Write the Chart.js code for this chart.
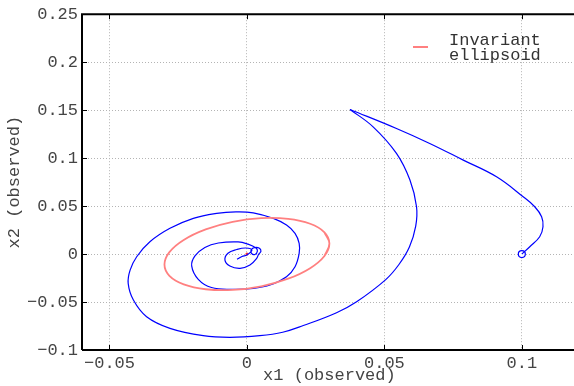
<!DOCTYPE html>
<html>
<head>
<meta charset="utf-8">
<script src="https://cdn.jsdelivr.net/npm/chart.js@4"></script>
<style>
  html, body { margin: 0; padding: 0; background: #fff; overflow: hidden; }
  #wrap { width: 582px; height: 386px; }
</style>
</head>
<body>
<div id="wrap"><canvas id="c" width="582" height="386"></canvas></div>
<script>
// observed trajectory (x1, x2)
const trajX = [0.1000, 0.1029, 0.1065, 0.1077, 0.1072, 0.1047, 0.1005, 0.0908, 0.0787, 0.0665,
  0.0544, 0.0375, 0.0459, 0.0544, 0.0593, 0.0617, 0.0614, 0.0591, 0.0553, 0.0505,
  0.0399, 0.0326, 0.0205, 0.0130, 0.0047, -0.0062, -0.0159, -0.0280, -0.0365, -0.0413,
  -0.0432, -0.0425, -0.0401, -0.0353, -0.0280, -0.0195, -0.0110, -0.0040, 0.0023, 0.0096,
  0.0144, 0.0175, 0.0190, 0.0190, 0.0175, 0.0144, 0.0084, 0.0023, -0.0050, -0.0129,
  -0.0177, -0.0201, -0.0189, -0.0153, -0.0104, -0.0032, 0.0004,
  0.0033, 0.0038, 0.0029, 0.0016, 0.0016, 0.0029, 0.0044, 0.0051, 0.0042, 0.0036,
  0.0011, -0.0025, -0.0062, -0.0080, -0.0069, -0.0037, -0.0004, 0.0018, 0.0000, -0.0018, -0.0036];
const trajY = [0.0000, 0.0076, 0.0180, 0.0284, 0.0389, 0.0493, 0.0597, 0.0805, 0.0979, 0.1153,
  0.1309, 0.1507, 0.1326, 0.1049, 0.0771, 0.0493, 0.0292, 0.0073, -0.0109, -0.0266,
  -0.0497, -0.0611, -0.0745, -0.0815, -0.0851, -0.0868, -0.0851, -0.0774, -0.0653, -0.0479,
  -0.0305, -0.0167, -0.0028, 0.0128, 0.0268, 0.0372, 0.0424, 0.0440, 0.0430, 0.0372,
  0.0302, 0.0216, 0.0111, 0.0007, -0.0132, -0.0236, -0.0323, -0.0357, -0.0367, -0.0349,
  -0.0263, -0.0123, -0.0019, 0.0069, 0.0115, 0.0127, 0.0103,
  0.0063, 0.0031, -0.0005, 0.0010, 0.0047, 0.0068, 0.0063, 0.0031, -0.0005, -0.0042,
  -0.0115, -0.0149, -0.0125, -0.0063, 0.0009, 0.0047, 0.0063, 0.0042, -0.0010, -0.0026, -0.0055];
const cuspIndex = 11;

// invariant ellipsoid outline (first/last points overlap so the loop closes smoothly)
const ellX = [0.0282, 0.0300, 0.0282, 0.0230, 0.0150, 0.0052, -0.0052, -0.0150, -0.0230, -0.0282,
  -0.0300, -0.0282, -0.0230, -0.0150, -0.0052, 0.0052, 0.0150, 0.0230, 0.0282, 0.0300, 0.0282];
const ellY = [-0.0020, 0.0110, 0.0227, 0.0316, 0.0367, 0.0374, 0.0336, 0.0257, 0.0147, 0.0020,
  -0.0110, -0.0227, -0.0316, -0.0367, -0.0374, -0.0336, -0.0257, -0.0147, -0.0020, 0.0110, 0.0227];

const xTicks = [-0.05, 0, 0.05, 0.1];
const yTicks = [-0.1, -0.05, 0, 0.05, 0.1, 0.15, 0.2, 0.25];
const legendLines = ['Invariant', 'ellipsoid'];

const FONT = "'Courier New', 'Liberation Mono', monospace";

function pts(xs, ys, from, to) {
  const out = [];
  for (let i = from; i < to; i++) out.push({ x: xs[i], y: ys[i] });
  return out;
}
function fmt(v) {
  return String(+v.toFixed(4)).replace('-', '\u2212');
}

// black frame, inward tick marks and the two-line legend
const framePlugin = {
  id: 'frame',
  afterDraw(chart) {
    const { ctx, chartArea: a, scales } = chart;
    ctx.save();
    ctx.strokeStyle = '#000';
    ctx.lineWidth = 2;
    ctx.beginPath();
    ctx.moveTo(a.left, a.bottom);
    ctx.lineTo(a.left, a.top);
    ctx.lineTo(a.right, a.top);
    ctx.moveTo(a.left, a.bottom);
    ctx.lineTo(a.right, a.bottom);
    ctx.stroke();
    ctx.lineWidth = 1;
    ctx.beginPath();
    xTicks.forEach(v => {
      const px = Math.round(scales.x.getPixelForValue(v)) + 0.5;
      ctx.moveTo(px, a.bottom); ctx.lineTo(px, a.bottom - 5);
      ctx.moveTo(px, a.top); ctx.lineTo(px, a.top + 5);
    });
    yTicks.forEach(v => {
      const py = Math.round(scales.y.getPixelForValue(v)) + 0.5;
      ctx.moveTo(a.left, py); ctx.lineTo(a.left + 5, py);
    });
    ctx.stroke();

    // legend
    ctx.strokeStyle = '#ff8080';
    ctx.lineWidth = 2;
    ctx.beginPath();
    ctx.moveTo(413, 47);
    ctx.lineTo(428, 47);
    ctx.stroke();
    ctx.fillStyle = '#333';
    ctx.font = '17px ' + FONT;
    ctx.textBaseline = 'middle';
    ctx.textAlign = 'left';
    ctx.fillText(legendLines[0], 449, 40);
    ctx.fillText(legendLines[1], 449, 55);
    ctx.restore();
  }
};

new Chart(document.getElementById('c'), {
  type: 'scatter',
  data: {
    datasets: [
      {
        data: pts(ellX, ellY, 0, ellX.length),
        showLine: true, borderColor: '#ff8080', borderWidth: 1.8,
        pointRadius: 0, tension: 0.4, fill: false
      },
      {
        data: pts(trajX, trajY, 0, cuspIndex + 1),
        showLine: true, borderColor: '#0000ff', borderWidth: 1.2,
        pointRadius: 0, tension: 0.4, fill: false
      },
      {
        data: pts(trajX, trajY, cuspIndex, trajX.length),
        showLine: true, borderColor: '#0000ff', borderWidth: 1.2,
        pointRadius: 0, tension: 0.4, fill: false
      },
      {
        data: [{ x: trajX[0], y: trajY[0] }],
        pointRadius: 3.5, pointBorderWidth: 1.2,
        pointBorderColor: '#0000ff', pointBackgroundColor: '#fff'
      },
      {
        data: [{ x: 0, y: 0 }],
        pointRadius: 1.5, pointBorderWidth: 0,
        pointBackgroundColor: '#ff3030'
      }
    ]
  },
  options: {
    responsive: false,
    animation: false,
    layout: { padding: { top: 14, right: 1, left: 0, bottom: 0 } },
    plugins: { legend: { display: false }, tooltip: { enabled: false } },
    scales: {
      x: {
        type: 'linear', min: -0.06, max: 0.12,
        afterBuildTicks: s => { s.ticks = xTicks.map(v => ({ value: v })); },
        afterFit: s => { s.height = 36; },
        grid: { color: '#b4b4b4', lineWidth: 1, drawTicks: false },
        border: { display: false, dash: [1, 2] },
        ticks: {
          color: '#444', padding: 3, maxRotation: 0, autoSkip: false,
          font: { family: FONT, size: 17 },
          callback: v => fmt(v)
        },
        title: {
          display: true, text: 'x1 (observed)', color: '#444',
          font: { family: FONT, size: 17 }, padding: { top: 0, bottom: 0 }
        }
      },
      y: {
        type: 'linear', min: -0.1, max: 0.25,
        afterBuildTicks: s => { s.ticks = yTicks.map(v => ({ value: v })); },
        afterFit: s => { s.width = 82; },
        grid: { color: '#b4b4b4', lineWidth: 1, drawTicks: false },
        border: { display: false, dash: [1, 2] },
        ticks: {
          color: '#444', padding: 4, autoSkip: false,
          font: { family: FONT, size: 17 },
          callback: v => fmt(v)
        },
        title: {
          display: true, text: 'x2 (observed)', color: '#444',
          font: { family: FONT, size: 17 }, padding: { top: 4, bottom: 0 }
        }
      }
    }
  },
  plugins: [framePlugin]
});
</script>
</body>
</html>
